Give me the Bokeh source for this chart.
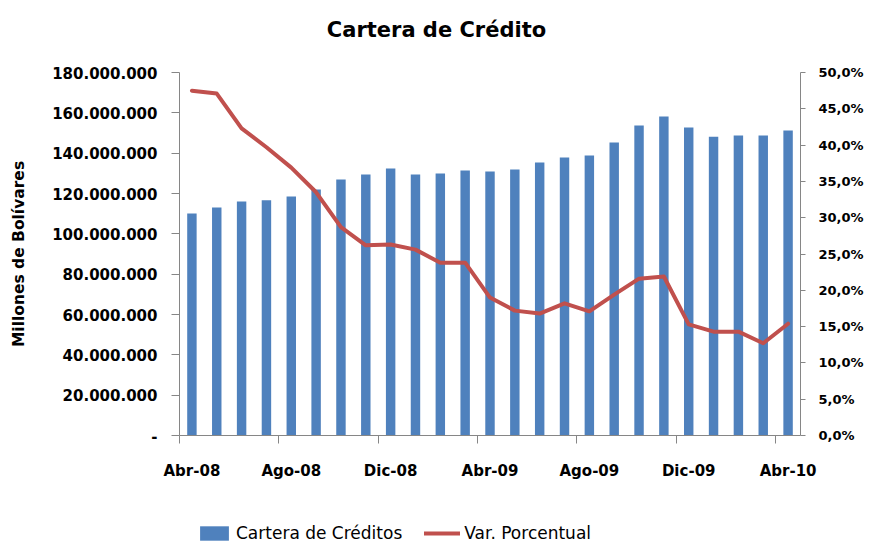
from bokeh.plotting import figure
from bokeh.layouts import column
from bokeh.models import Range1d, LinearAxis, FixedTicker, Legend, LegendItem, Div
from bokeh.embed import file_html
from bokeh.resources import INLINE

# ---- data ----
months = ["Abr-08", "May-08", "Jun-08", "Jul-08", "Ago-08", "Sep-08", "Oct-08", "Nov-08",
          "Dic-08", "Ene-09", "Feb-09", "Mar-09", "Abr-09", "May-09", "Jun-09", "Jul-09",
          "Ago-09", "Sep-09", "Oct-09", "Nov-09", "Dic-09", "Ene-10", "Feb-10", "Mar-10",
          "Abr-10"]
cartera = [110_100_000, 113_100_000, 116_000_000, 116_600_000, 118_500_000, 122_000_000,
           127_000_000, 129_400_000, 132_400_000, 129_400_000, 129_900_000, 131_400_000,
           130_900_000, 131_900_000, 135_400_000, 137_800_000, 138_800_000, 145_300_000,
           153_700_000, 158_200_000, 152_700_000, 148_200_000, 148_800_000, 148_800_000,
           151_200_000]
var_pct = [47.5, 47.1, 42.3, 39.7, 36.9, 33.5, 28.7, 26.2, 26.3, 25.6, 23.8, 23.8,
           19.0, 17.2, 16.8, 18.2, 17.1, 19.4, 21.6, 21.9, 15.3, 14.3, 14.3, 12.7, 15.4]
left_ticks = [0, 20_000_000, 40_000_000, 60_000_000, 80_000_000, 100_000_000,
              120_000_000, 140_000_000, 160_000_000, 180_000_000]
left_labels = ["-", "20.000.000", "40.000.000", "60.000.000", "80.000.000", "100.000.000",
               "120.000.000", "140.000.000", "160.000.000", "180.000.000"]
right_ticks = [0, 5, 10, 15, 20, 25, 30, 35, 40, 45, 50]
right_labels = ["0,0%", "5,0%", "10,0%", "15,0%", "20,0%", "25,0%", "30,0%", "35,0%",
                "40,0%", "45,0%", "50,0%"]
title_text = "Cartera de Crédito"
ylabel_text = "Millones de Bolívares"
legend_bar = "Cartera de Créditos"
legend_line = "Var. Porcentual"

idx = list(range(len(months)))
label_every = 4

FONT = "DejaVu Sans"
GRAY = "#868686"
BLUE = "#4F81BD"
RED = "#C0504D"
W = 873
H_TITLE = 50
H_MAIN = 437
H_LEG = 56

# ---- title ----
title = Div(text=title_text, width=W, height=H_TITLE, margin=0,
            styles={"font-family": FONT, "font-weight": "bold", "font-size": "21px",
                    "line-height": "24px", "text-align": "center", "width": f"{W}px",
                    "padding-top": "18px", "box-sizing": "border-box", "color": "black"})

# ---- main chart ----
p = figure(width=W, height=H_MAIN, output_backend="svg", toolbar_location=None,
           x_range=Range1d(-0.5, len(months) - 0.5), y_range=Range1d(0, 180_000_000),
           min_border_left=179, min_border_right=73, min_border_top=22, min_border_bottom=52,
           x_axis_type=None, y_axis_type=None)
p.outline_line_color = None
p.background_fill_color = "white"
p.border_fill_color = "white"

yax = LinearAxis(ticker=FixedTicker(ticks=left_ticks),
                 major_label_overrides={t: l for t, l in zip(left_ticks, left_labels)})
yax.axis_label = ylabel_text
yax.axis_label_text_font = FONT
yax.axis_label_text_font_size = "15.5px"
yax.axis_label_text_font_style = "bold"
yax.axis_label_text_color = "black"
yax.axis_label_standoff = 21
yax.major_label_text_font = FONT
yax.major_label_text_font_size = "15px"
yax.major_label_text_font_style = "bold"
yax.major_label_text_color = "black"
yax.major_tick_out = 8
yax.major_tick_in = 0
yax.major_label_standoff = 14
yax.axis_line_color = GRAY
yax.major_tick_line_color = GRAY
yax.minor_tick_line_color = None
p.add_layout(yax, "left")

p.extra_y_ranges = {"pct": Range1d(0, 50)}
rax = LinearAxis(y_range_name="pct", ticker=FixedTicker(ticks=right_ticks),
                 major_label_overrides={t: l for t, l in zip(right_ticks, right_labels)})
rax.major_label_text_font = FONT
rax.major_label_text_font_size = "13px"
rax.major_label_text_font_style = "bold"
rax.major_label_text_color = "black"
rax.major_tick_out = 5
rax.major_tick_in = 0
rax.major_label_standoff = 13
rax.axis_line_color = GRAY
rax.major_tick_line_color = GRAY
rax.minor_tick_line_color = None
p.add_layout(rax, "right")

xt = idx[::label_every]
xminor = [i - 0.5 for i in idx[::label_every]]
xax = LinearAxis(ticker=FixedTicker(ticks=xt, minor_ticks=xminor),
                 major_label_overrides={i: months[i] for i in xt})
xax.major_label_text_font = FONT
xax.major_label_text_font_size = "15px"
xax.major_label_text_font_style = "bold"
xax.major_label_text_color = "black"
xax.major_tick_out = 0
xax.major_tick_in = 0
xax.minor_tick_out = 8
xax.minor_tick_in = 0
xax.major_label_standoff = 18
xax.axis_line_color = GRAY
xax.major_tick_line_color = None
xax.minor_tick_line_color = GRAY
p.add_layout(xax, "below")

p.ygrid.grid_line_color = GRAY
p.ygrid.grid_line_width = 1
p.ygrid.ticker = FixedTicker(ticks=left_ticks[1:])

p.vbar(x=idx, top=cartera, width=0.38, fill_color=BLUE, line_color=None)
p.line(x=idx, y=var_pct, y_range_name="pct", line_color=RED, line_width=4,
       line_join="round", line_cap="round")

# ---- legend strip: same series drawn far outside its visible range; only the legend shows ----
pl = figure(width=W, height=H_LEG, output_backend="svg", toolbar_location=None,
            x_range=Range1d(-0.5, len(months) - 0.5), y_range=Range1d(1e12, 2e12),
            min_border=0, x_axis_type=None, y_axis_type=None)
pl.outline_line_color = None
pl.xgrid.visible = False
pl.ygrid.visible = False
lb = pl.vbar(x=idx, top=cartera, width=0.38, fill_color=BLUE, line_color=None)
ll = pl.line(x=idx, y=var_pct, line_color=RED, line_width=4, line_cap="round")
legend = Legend(items=[LegendItem(label=legend_bar, renderers=[lb]),
                       LegendItem(label=legend_line, renderers=[ll])],
                orientation="horizontal", location=(17, 0))
legend.label_text_font = FONT
legend.label_text_font_size = "17px"
legend.label_text_color = "black"
legend.glyph_width = 36
legend.glyph_height = 18
legend.label_standoff = 4
legend.spacing = 22
legend.padding = 0
legend.margin = 0
legend.border_line_color = None
legend.background_fill_alpha = 0
pl.add_layout(legend, "center")

layout = column(title, p, pl, spacing=0)
open("out.html", "w").write(file_html(layout, INLINE))
